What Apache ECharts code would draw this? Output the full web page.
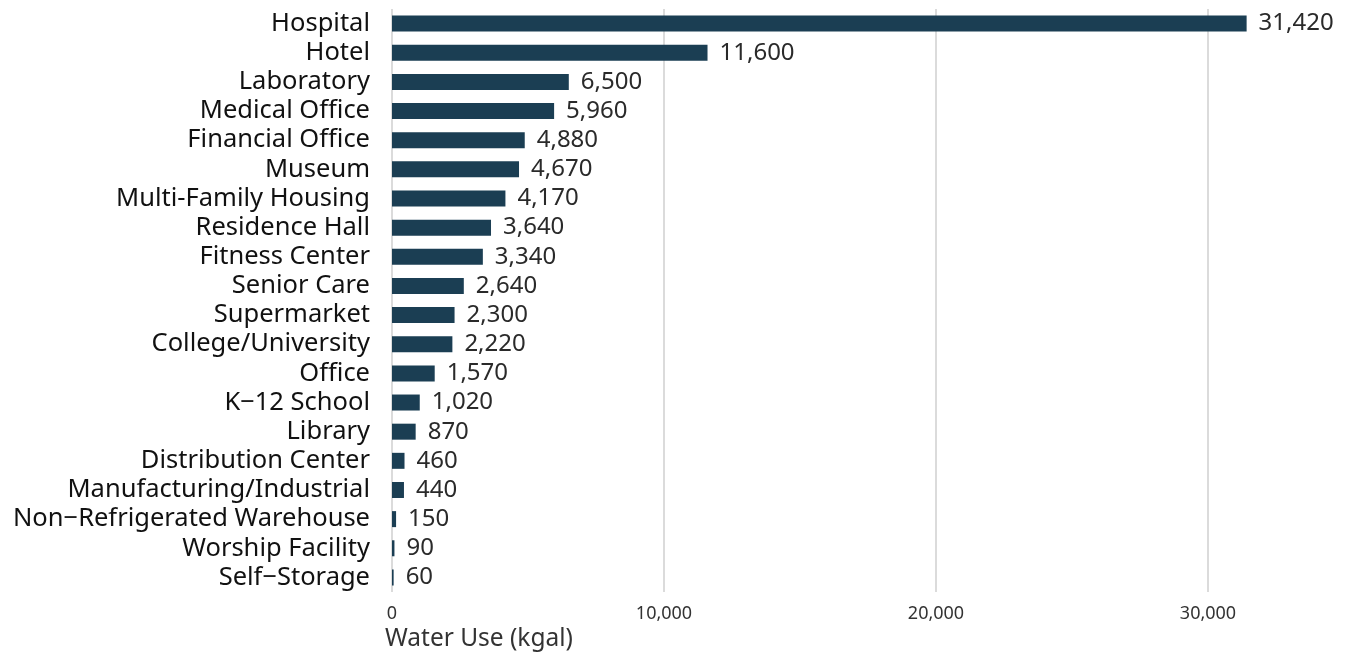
<!DOCTYPE html>
<html><head><meta charset="utf-8">
<script src="https://cdn.jsdelivr.net/npm/echarts@6/dist/echarts.min.js"></script>
<style>html,body{margin:0;padding:0;background:#fff}#c{width:1348px;height:658px}</style>
</head><body><div id="c"></div>
<script>
const categories = ["Hospital","Hotel","Laboratory","Medical Office","Financial Office","Museum","Multi-Family Housing","Residence Hall","Fitness Center","Senior Care","Supermarket","College/University","Office","K\u221212 School","Library","Distribution Center","Manufacturing/Industrial","Non\u2212Refrigerated Warehouse","Worship Facility","Self\u2212Storage"];
const waterUse = [31420,11600,6500,5960,4880,4670,4170,3640,3340,2640,2300,2220,1570,1020,870,460,440,150,90,60];
const xTicks = [0,10000,20000,30000];
const axisTitle = "Water Use (kgal)";
const FONT = "Noto Sans";
const fmt = v => Number(v).toLocaleString('en-US');
const chart = echarts.init(document.getElementById('c'));
chart.setOption({
  animation:false,
  grid:{left:392,right:4,top:9,bottom:66,containLabel:false},
  xAxis:{type:'value',min:0,max:35000,interval:10000,
    axisLine:{show:false},axisTick:{show:false},
    splitLine:{show:true,showMaxLine:false,lineStyle:{color:'#cfcfcf',width:1.5}},
    axisLabel:{showMaxLabel:false,color:'#333',fontFamily:FONT,fontSize:18,margin:13,
      formatter:v=>xTicks.includes(v)?fmt(v):''}},
  yAxis:{type:'category',data:categories,inverse:true,
    axisLine:{show:false},axisTick:{show:false},
    axisLabel:{interval:0,color:'#111',fontFamily:FONT,fontSize:25.5,margin:22}},
  series:[{type:'bar',data:waterUse,barWidth:16,
    itemStyle:{color:'#1b3e53'},
    label:{show:true,position:'right',distance:12,color:'#2a2a2a',fontFamily:FONT,fontSize:24,
      formatter:p=>fmt(p.value)}}],
  graphic:[{type:'text',left:385,top:627,style:{text:axisTitle,fill:'#333',font:'24.5px '+FONT}}]
});
</script></body></html>
